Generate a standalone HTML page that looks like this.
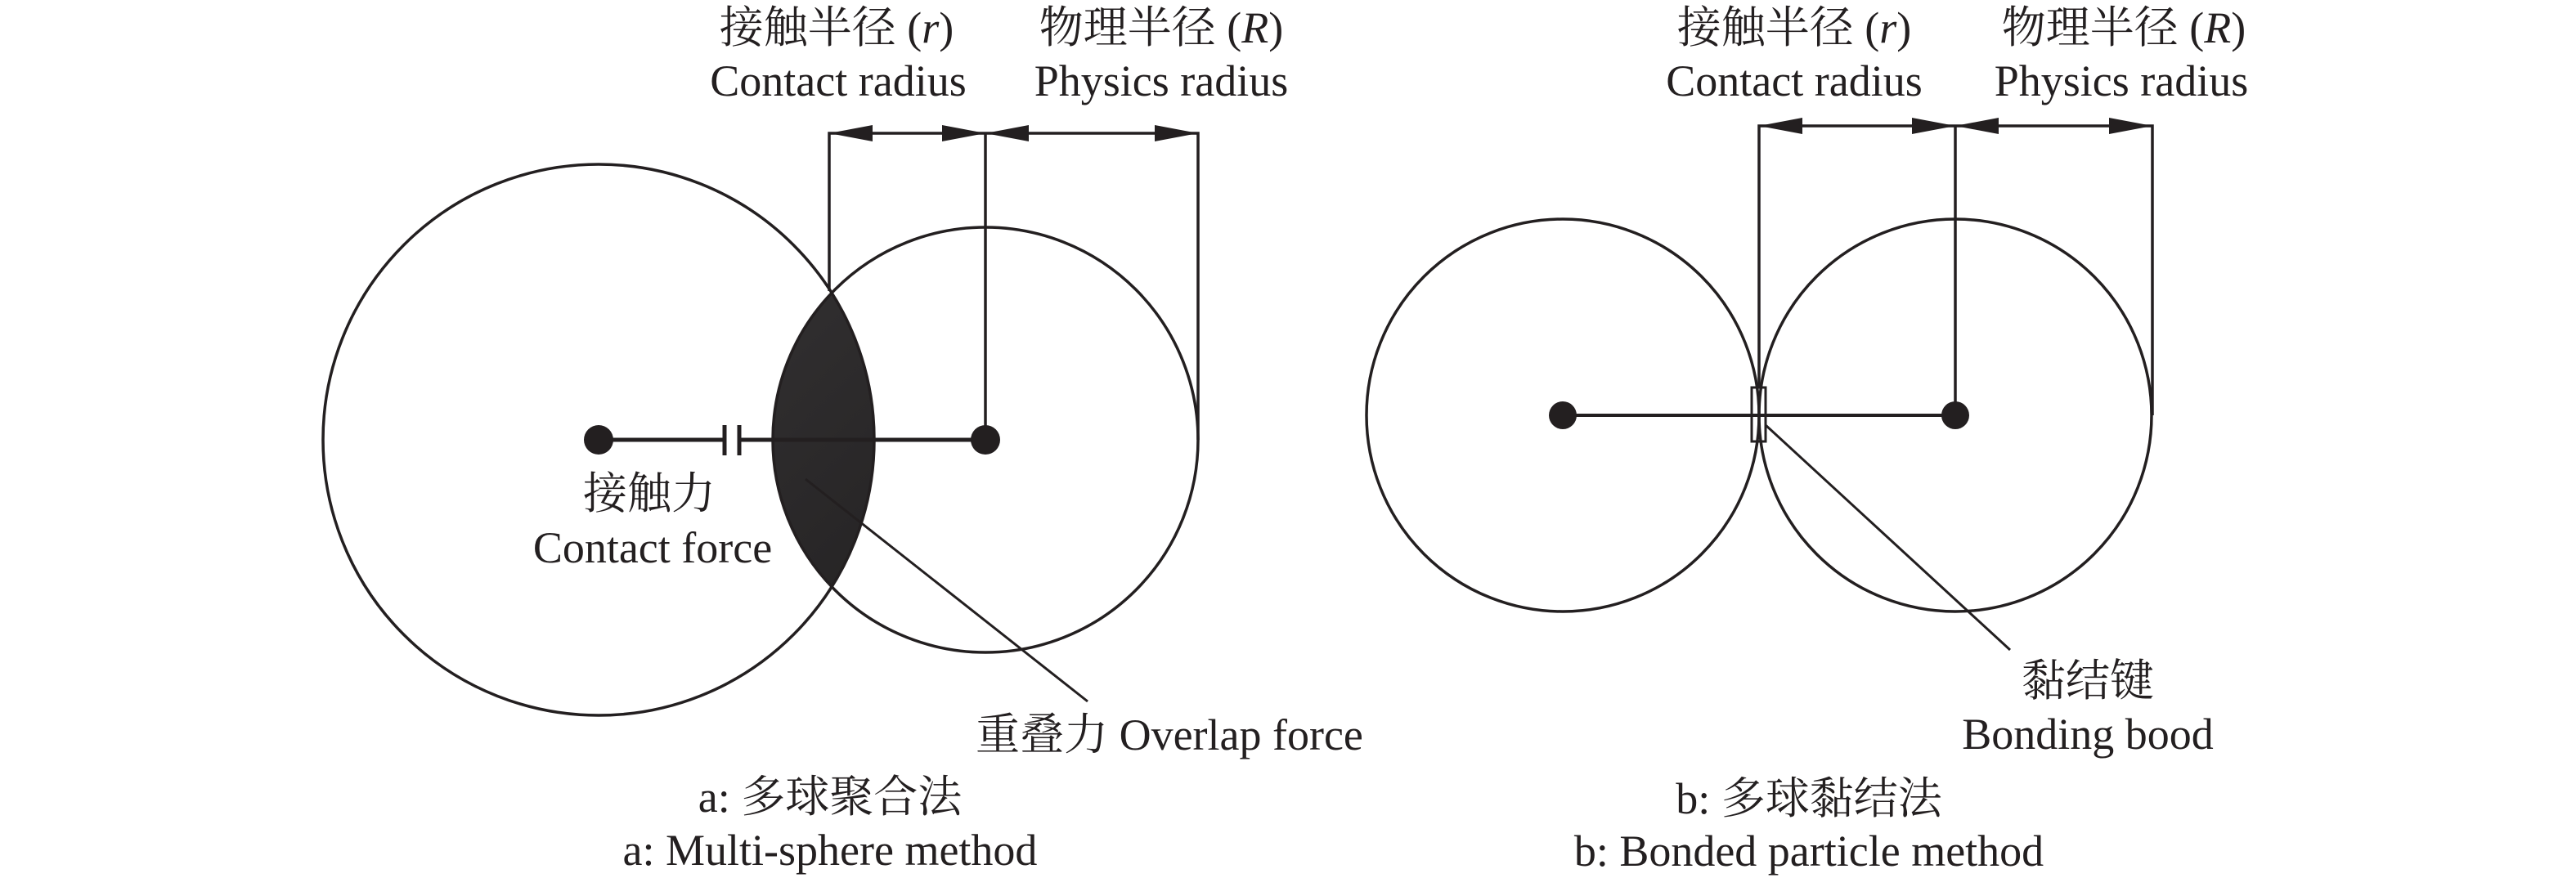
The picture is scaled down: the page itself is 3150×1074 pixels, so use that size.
<!DOCTYPE html>
<html><head><meta charset="utf-8"><style>
html,body{margin:0;padding:0;background:#fff}
svg{display:block}
text{font-family:"Liberation Serif","Noto Serif CJK SC","Noto Sans CJK SC",serif;font-size:54px;fill:#231f20;text-anchor:middle}
</style></head><body>
<svg width="3150" height="1074" viewBox="0 0 3150 1074" xmlns="http://www.w3.org/2000/svg">
<defs>
<linearGradient id="g" x1="0" y1="0" x2="1" y2="1"><stop offset="0" stop-color="#333132"/><stop offset="1" stop-color="#1b191a"/></linearGradient>
<clipPath id="c1"><circle cx="732" cy="538" r="337"/></clipPath>
</defs>
<g stroke="#231f20" stroke-width="3.5" fill="none">
<circle cx="1205" cy="538" r="260" fill="url(#g)" clip-path="url(#c1)" stroke="none"/>
<circle cx="732" cy="538" r="337"/>
<circle cx="1205" cy="538" r="260"/>
<line x1="732" y1="538" x2="886" y2="538" stroke-width="5"/>
<line x1="904" y1="538" x2="1205" y2="538" stroke-width="5"/>
<line x1="886" y1="520" x2="886" y2="557" stroke-width="5"/>
<line x1="904" y1="520" x2="904" y2="557" stroke-width="5"/>
<polyline points="1014,356 1014,163 1465,163 1465,538"/>
<line x1="1205" y1="163" x2="1205" y2="538"/>
<line x1="985" y1="586" x2="1330" y2="858" stroke-width="3"/>
<circle cx="1911" cy="508" r="240"/>
<circle cx="2391" cy="508" r="240"/>
<line x1="1911" y1="508" x2="2391" y2="508" stroke-width="4"/>
<rect x="2142" y="474" width="17" height="66" stroke-width="3"/>
<polyline points="2151,474 2151,154 2632,154 2632,508"/>
<line x1="2391" y1="154" x2="2391" y2="508"/>
<line x1="2159" y1="520" x2="2458" y2="795" stroke-width="3"/>
</g>
<g fill="#231f20">
<circle cx="732" cy="538" r="18"/>
<circle cx="1205" cy="538" r="18"/>
<circle cx="1911" cy="508" r="17"/>
<circle cx="2391" cy="508" r="17"/>
<polygon points="1014,163 1067,153 1067,173"/>
<polygon points="1205,163 1152,153 1152,173"/>
<polygon points="1205,163 1258,153 1258,173"/>
<polygon points="1465,163 1412,153 1412,173"/>
<polygon points="2151,154 2204,144 2204,164"/>
<polygon points="2391,154 2338,144 2338,164"/>
<polygon points="2391,154 2444,144 2444,164"/>
<polygon points="2632,154 2579,144 2579,164"/>
</g>
<text x="1023" y="52">接触半径 (<tspan font-style="italic">r</tspan>)</text>
<text x="1025" y="117">Contact radius</text>
<text x="1420" y="52">物理半径 (<tspan font-style="italic">R</tspan>)</text>
<text x="1420" y="117">Physics radius</text>
<text x="794" y="622">接触力</text>
<text x="798" y="688">Contact force</text>
<text x="1430" y="917">重叠力 Overlap force</text>
<text x="1015" y="993">a: 多球聚合法</text>
<text x="1015" y="1058">a: Multi-sphere method</text>
<text x="2194" y="52">接触半径 (<tspan font-style="italic">r</tspan>)</text>
<text x="2194" y="117">Contact radius</text>
<text x="2597" y="52">物理半径 (<tspan font-style="italic">R</tspan>)</text>
<text x="2594" y="117">Physics radius</text>
<text x="2553" y="851">黏结键</text>
<text x="2553" y="916">Bonding bood</text>
<text x="2212" y="995">b: 多球黏结法</text>
<text x="2212" y="1059">b: Bonded particle method</text>
</svg>
</body></html>
